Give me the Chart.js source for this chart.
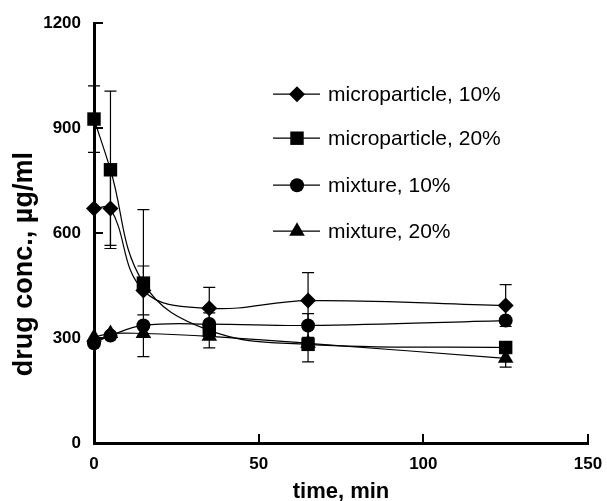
<!DOCTYPE html>
<html>
<head>
<meta charset="utf-8">
<script src="https://cdn.jsdelivr.net/npm/chart.js@4/dist/chart.umd.min.js"></script>
<style>
  html, body { margin: 0; padding: 0; background: #fff; }
  #wrap { width: 607px; height: 501px; }
</style>
</head>
<body>
<div id="wrap"><canvas id="grafico"></canvas></div>
<script>
// data
const tiempos = [0, 5, 15, 35, 65, 125];
const micro10 = [670, 670, 436, 385, 407, 393];
const micro20 = [926, 781, 457, 322, 282, 273];
const mezcla10 = [285, 307, 336, 340, 336, 350];
const mezcla20 = [302, 313, 313, 305, 285, 242];

// error bars (null = not visible in the picture)
const errMicro10 = [null, 105, 70, 60, 80, 60];
const errMicro20 = [95, 225, 210, 50, 50, null];
const errMezcla10 = [null, null, null, null, 34, null];
const errMezcla20 = [null, null, null, null, null, 25];

const xTicks = [0, 50, 100, 150];
const yTicks = [0, 300, 600, 900, 1200];

const etiquetas = ['microparticle, 10%', 'microparticle, 20%', 'mixture, 10%', 'mixture, 20%'];
const estilos = ['rectRot', 'rect', 'circle', 'triangle'];
const radios = [8, 9.5, 7, 9];

const series = [micro10, micro20, mezcla10, mezcla20];
const errores = [errMicro10, errMicro20, errMezcla10, errMezcla20];

const FUENTE = "'Liberation Sans', Arial, sans-serif";

const datasets = series.map((valores, i) => ({
    label: etiquetas[i],
    data: valores.map((v, j) => ({ x: tiempos[j], y: v })),
    borderColor: '#000',
    backgroundColor: '#000',
    borderWidth: 1.2,
    pointStyle: estilos[i],
    pointRadius: radios[i],
    pointBorderWidth: 0,
    pointBackgroundColor: '#000',
    tension: 0.4,
    clip: false,
    fill: false
}));

// error bars drawn behind the markers
const barrasError = {
    id: 'barrasError',
    beforeDatasetsDraw(chart) {
        const ctx = chart.ctx;
        const xs = chart.scales.x;
        const ys = chart.scales.y;
        ctx.save();
        ctx.strokeStyle = '#000';
        ctx.lineWidth = 1.2;
        series.forEach((valores, i) => {
            valores.forEach((v, j) => {
                const e = errores[i][j];
                if (e == null) return;
                const px = xs.getPixelForValue(tiempos[j]);
                const top = ys.getPixelForValue(v + e);
                const bot = ys.getPixelForValue(v - e);
                ctx.beginPath();
                ctx.moveTo(px, top);
                ctx.lineTo(px, bot);
                ctx.moveTo(px - 6, top);
                ctx.lineTo(px + 6, top);
                ctx.moveTo(px - 6, bot);
                ctx.lineTo(px + 6, bot);
                ctx.stroke();
            });
        });
        ctx.restore();
    }
};

// inward tick marks, legend and y title
const extras = {
    id: 'extras',
    afterDraw(chart) {
        const ctx = chart.ctx;
        const area = chart.chartArea;
        const xs = chart.scales.x;
        const ys = chart.scales.y;
        ctx.save();
        ctx.strokeStyle = '#000';
        ctx.lineWidth = 2;
        ctx.beginPath();
        yTicks.forEach(t => {
            if (t === 0) return;
            const py = Math.round(ys.getPixelForValue(t));
            ctx.moveTo(area.left, py);
            ctx.lineTo(area.left + 9, py);
        });
        xTicks.forEach(t => {
            if (t === 0) return;
            const px = Math.round(xs.getPixelForValue(t));
            ctx.moveTo(px, area.bottom);
            ctx.lineTo(px, area.bottom - 9);
        });
        ctx.stroke();

        // legend inside the plot
        const lx = area.left + 179;
        const posY = [area.top + 71, area.top + 115, area.top + 162, area.top + 208];
        etiquetas.forEach((txt, i) => {
            const y = posY[i];
            ctx.strokeStyle = '#000';
            ctx.lineWidth = 1.2;
            ctx.beginPath();
            ctx.moveTo(lx, y);
            ctx.lineTo(lx + 47, y);
            ctx.stroke();
            ctx.fillStyle = '#000';
            Chart.helpers.drawPoint(ctx, {
                pointStyle: estilos[i], radius: radios[i], rotation: 0, borderWidth: 0
            }, lx + 24, y);
            ctx.font = '21px ' + FUENTE;
            ctx.textAlign = 'left';
            ctx.textBaseline = 'middle';
            ctx.fillText(txt, lx + 55, y + 1);
        });

        // y title
        ctx.translate(25, (area.top + area.bottom) / 2 + 31);
        ctx.rotate(-Math.PI / 2);
        ctx.font = 'bold 27px ' + FUENTE;
        ctx.textAlign = 'center';
        ctx.textBaseline = 'middle';
        ctx.fillStyle = '#000';
        ctx.fillText('drug conc., \u00b5g/ml', 0, 0);
        ctx.restore();
    }
};

const ctx = document.querySelector('#grafico').getContext('2d');
const myChart = new Chart(ctx, {
    type: 'line',
    data: { datasets: datasets },
    plugins: [barrasError, extras],
    options: {
        responsive: true,
        maintainAspectRatio: false,
        animation: false,
        layout: { padding: { left: 0, right: 19, top: 22, bottom: 0 } },
        plugins: {
            legend: { display: false },
            tooltip: { enabled: false }
        },
        scales: {
            x: {
                type: 'linear',
                min: 0,
                max: 150,
                afterFit: (scale) => {
                    scale.height = 58;
                    scale.paddingLeft = 0;
                    scale.paddingRight = 0;
                },
                afterBuildTicks: (scale) => { scale.ticks = xTicks.map(v => ({ value: v })); },
                border: { display: true, color: '#000', width: 3 },
                grid: { display: true, drawOnChartArea: false, drawTicks: false },
                ticks: {
                    padding: 11,
                    color: '#000',
                    callback: (v) => String(v),
                    font: { family: FUENTE, size: 17, weight: 'bold' }
                },
                title: {
                    display: true,
                    text: 'time, min',
                    color: '#000',
                    padding: { top: 0, bottom: -2 },
                    font: { family: FUENTE, size: 22, weight: 'bold', lineHeight: 1 }
                }
            },
            y: {
                min: 0,
                max: 1200,
                afterFit: (scale) => { scale.width = 94; },
                afterBuildTicks: (scale) => { scale.ticks = yTicks.map(v => ({ value: v })); },
                border: { display: true, color: '#000', width: 3 },
                grid: { display: true, drawOnChartArea: false, drawTicks: false },
                ticks: {
                    padding: 13,
                    color: '#000',
                    callback: (v) => String(v),
                    font: { family: FUENTE, size: 17, weight: 'bold' }
                }
            }
        }
    }
});
</script>
</body>
</html>
